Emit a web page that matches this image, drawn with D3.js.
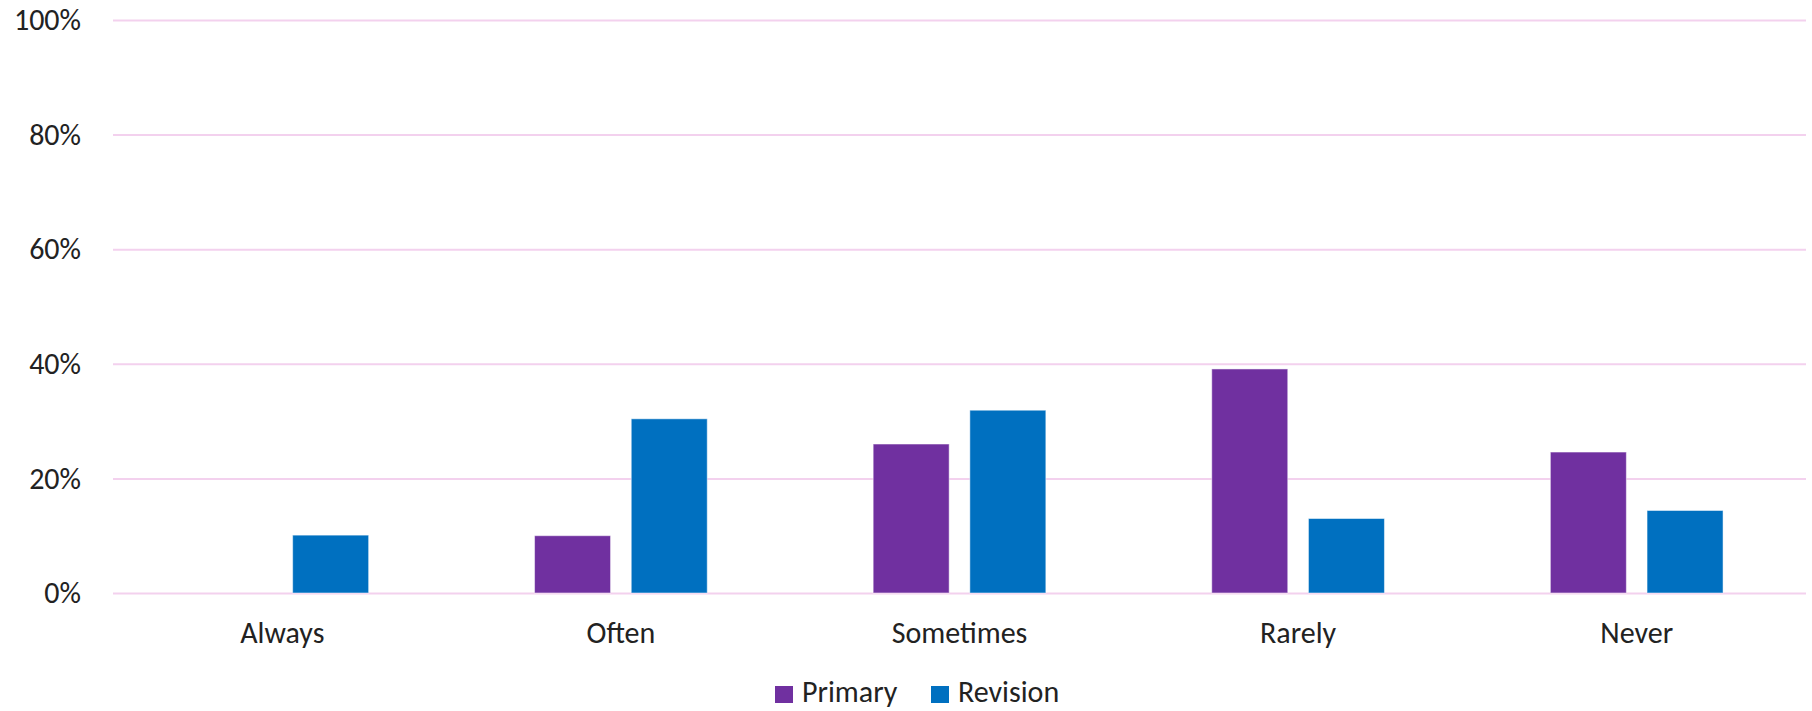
<!DOCTYPE html>
<html>
<head>
<meta charset="utf-8">
<script src="https://cdn.jsdelivr.net/npm/d3@7"></script>
<style>
    body { margin: 0; background: #fff; }
    svg { display: block; }
    svg text { font-family: Carlito, Calibri, Lato, sans-serif; }
    .tick text { fill: #222; font-size: 30px; }
    .label { fill: #222; font-size: 30px; }
</style>
</head>
<body>
<svg id="chart" width="1812" height="711"></svg>
<script>
const categories = ["Always", "Often", "Sometimes", "Rarely", "Never"];
const seriesNames = ["Primary", "Revision"];
const primaryValues = [0, 10, 26, 39.1, 24.6];
const revisionValues = [10.1, 30.4, 31.9, 13, 14.4];
const yTicks = [0, 20, 40, 60, 80, 100];
const colors = ["#7030A0", "#0070C0"];

const width = 1812;
const height = 711;
const MARGIN = {left: 113, right: 6, top: 20, bottom: 118};
const leftX = MARGIN.left;
const rightX = width - MARGIN.right;
const upperY = MARGIN.top;
const lowerY = height - MARGIN.bottom;

const svg = d3.select("#chart");

const translate = (x, y) => "translate(" + x + "," + y + ")";

const x0 = d3.scaleBand().domain(categories).range([leftX, rightX]).padding(0);
const x1 = d3.scaleBand().domain(seriesNames)
    .range([x0.bandwidth() * 0.245, x0.bandwidth() * 0.755])
    .paddingInner(0.214);
const y = d3.scaleLinear().domain([0, 100]).range([lowerY, upperY]);

// gridlines + y labels
const yAxis = svg.append("g")
    .attr("class", "yaxis")
    .attr("transform", translate(leftX, 0))
    .call(d3.axisLeft(y).tickValues(yTicks).tickSize(-(rightX - leftX)).tickPadding(32).tickFormat(d => d + "%"))
    .attr("font-family", null)
    .attr("font-size", null);
yAxis.select(".domain").remove();
yAxis.selectAll(".tick line").attr("stroke", "#F3D1EE").attr("stroke-width", 2);

// bars
const rows = categories.map((c, i) => ({category: c, values: [primaryValues[i], revisionValues[i]]}));

const groups = svg.append("g").attr("class", "bars")
    .selectAll("g.group").data(rows).enter()
    .append("g")
    .attr("class", "group")
    .attr("transform", d => translate(x0(d.category), 0));

groups.selectAll("rect").data(d => d.values.map((v, k) => ({name: seriesNames[k], value: v, k: k})))
    .enter()
    .filter(d => d.value > 0)
    .append("rect")
    .attr("x", d => x1(d.name))
    .attr("width", x1.bandwidth())
    .attr("y", d => y(d.value))
    .attr("height", d => y(0) - y(d.value))
    .attr("fill", d => colors[d.k])
    .attr("stroke", "#fff")
    .attr("stroke-opacity", 0.5)
    .attr("stroke-width", 1);

// x labels
const xAxis = svg.append("g")
    .attr("class", "xaxis")
    .attr("transform", translate(0, lowerY))
    .call(d3.axisBottom(x0).tickSize(0).tickPadding(0))
    .attr("font-family", null)
    .attr("font-size", null);
xAxis.select(".domain").remove();
xAxis.selectAll(".tick text").attr("dy", null).attr("y", 50);

// legend
const legendItems = [
    {name: seriesNames[0], color: colors[0], x: 775},
    {name: seriesNames[1], color: colors[1], x: 931}
];
const legend = svg.append("g").attr("class", "legend");
const item = legend.selectAll("g").data(legendItems).enter()
    .append("g")
    .attr("transform", d => translate(d.x, 686));
item.append("rect").attr("width", 18).attr("height", 17).attr("fill", d => d.color);
item.append("text").attr("class", "label").attr("x", 27).attr("y", 16).text(d => d.name);
</script>
</body>
</html>
